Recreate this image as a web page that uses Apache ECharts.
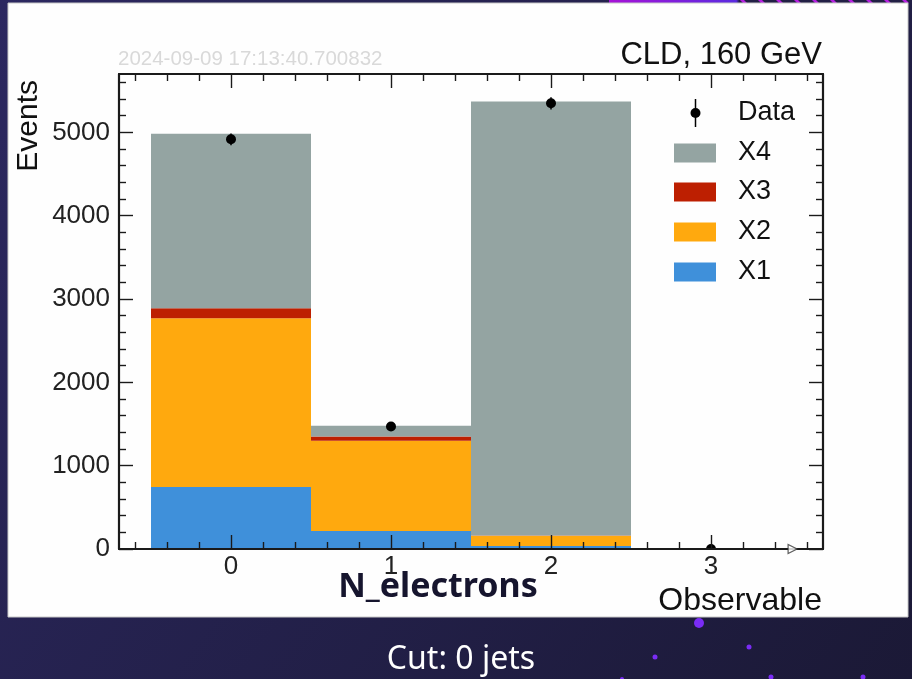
<!DOCTYPE html>
<html>
<head>
<meta charset="utf-8">
<script src="https://cdn.jsdelivr.net/npm/echarts@6/dist/echarts.min.js"></script>
<style>
html,body{margin:0;padding:0;background:#221f45;}
#chart{width:912px;height:679px;}
</style>
</head>
<body>
<div id="chart"></div>
<script>
// ---- data ----
const categories = [0, 1, 2, 3];
const x1Vals = [743, 216, 35, 0];
const x2Vals = [2027, 1083, 125, 0];
const x3Vals = [120, 52, 3, 0];
const x4Vals = [2094, 127, 5207, 0];
const dataVals = [4916, 1471, 5348, 0];
const dataErr = [70, 38, 73, 0];
const xTickLabels = [0, 1, 2, 3];
const xMinorTicks = [-0.6, -0.4, -0.2, 0.2, 0.4, 0.6, 0.8, 1.2, 1.4, 1.6, 1.8, 2.2, 2.4, 2.6, 2.8, 3.2, 3.4, 3.6];
const yTickLabels = [0, 1000, 2000, 3000, 4000, 5000];
const yMinorTicks = [200, 400, 600, 800, 1200, 1400, 1600, 1800, 2200, 2400, 2600, 2800, 3200, 3400, 3600, 3800, 4200, 4400, 4600, 4800, 5200, 5400, 5600];
const seriesNames = ['X1', 'X2', 'X3', 'X4'];
const seriesColors = ['#3f90da', '#ffa90e', '#bd1f01', '#94a4a2'];
const components = [x1Vals, x2Vals, x3Vals, x4Vals];

const chart = echarts.init(document.getElementById('chart'), null, {renderer: 'canvas'});
const FONT = '"Liberation Sans", Arial, Helvetica, sans-serif';
const AX = '#1a1a1a';

// stacked boxes
const stackSeries = [];
const base = categories.map(() => 0);
components.forEach((vals, k) => {
  const d = categories.map((c, i) => {
    const lo = base[i];
    const hi = lo + vals[i];
    base[i] = hi;
    return [c, lo, hi];
  });
  stackSeries.push({
    type: 'custom',
    name: seriesNames[k],
    xAxisIndex: 0, yAxisIndex: 0,
    clip: true,
    z: 2,
    itemStyle: {color: seriesColors[k]},
    encode: {x: 0, y: [1, 2]},
    data: d,
    renderItem: function (params, api) {
      const x = api.value(0), lo = api.value(1), hi = api.value(2);
      if (hi - lo <= 0) return null;
      const p0 = api.coord([x - 0.5, lo]);
      const p1 = api.coord([x + 0.5, hi]);
      return {
        type: 'rect',
        shape: {x: p0[0], y: p1[1], width: p1[0] - p0[0], height: p0[1] - p1[1]},
        style: {fill: seriesColors[k]}
      };
    }
  });
});

const dataSeries = {
  type: 'custom',
  name: 'Data',
  xAxisIndex: 0, yAxisIndex: 0,
  clip: true,
  z: 5,
  data: categories.map((c, i) => [c, dataVals[i], dataErr[i]]),
  encode: {x: 0, y: 1},
  renderItem: function (params, api) {
    const x = api.value(0), v = api.value(1), e = api.value(2);
    const p = api.coord([x, v]);
    const pl = api.coord([x, v - e]);
    const ph = api.coord([x, v + e]);
    return {
      type: 'group',
      children: [
        {type: 'line', shape: {x1: p[0], y1: pl[1], x2: p[0], y2: ph[1]}, style: {stroke: '#000', lineWidth: 1.5}},
        {type: 'circle', shape: {cx: p[0], cy: p[1], r: 5}, style: {fill: '#000'}}
      ]
    };
  }
};

// arrow marker on x axis (open triangle)
const arrowSeries = {
  type: 'scatter',
  xAxisIndex: 0, yAxisIndex: 0,
  z: 12,
  silent: true,
  symbol: 'triangle',
  symbolRotate: -90,
  symbolSize: [9, 9],
  itemStyle: {color: '#ffffff', borderColor: '#333', borderWidth: 1.2},
  data: [[3.51, 0]]
};

function xAx(pos, vals, len, lab, line) {
  return {
    type: 'value', position: pos, min: -0.7, max: 3.7, z: 10,
    axisLine: {show: line, onZero: false, lineStyle: {color: AX, width: 2.2}},
    axisTick: {show: true, inside: true, length: len, customValues: vals, lineStyle: {color: AX, width: 1.4}},
    axisLabel: lab ? {show: true, customValues: xTickLabels, formatter: v => String(v), fontFamily: FONT, fontSize: 26, color: '#222', margin: 5} : {show: false},
    splitLine: {show: false}, minorTick: {show: false}
  };
}
function yAx(pos, vals, len, lab, line) {
  return {
    type: 'value', position: pos, min: 0, max: 5700, z: 10,
    axisLine: {show: line, onZero: false, lineStyle: {color: AX, width: 2.2}},
    axisTick: {show: true, inside: true, length: len, customValues: vals, lineStyle: {color: AX, width: 1.4}},
    axisLabel: lab ? {show: true, customValues: yTickLabels, formatter: v => String(v), fontFamily: FONT, fontSize: 26, color: '#222', margin: 9} : {show: false},
    splitLine: {show: false}, minorTick: {show: false}
  };
}

const legendY = [113, 153, 192, 232, 272];
const legendGraphics = [
  {type: 'line', shape: {x1: 695.5, y1: 99, x2: 695.5, y2: 127}, style: {stroke: '#000', lineWidth: 1.5}, z: 20},
  {type: 'circle', shape: {cx: 695.5, cy: 113, r: 5}, style: {fill: '#000'}, z: 20},
  {type: 'text', x: 738, y: legendY[0], style: {text: 'Data', font: '27px ' + FONT, fill: '#111', verticalAlign: 'middle'}, z: 20}
];
[3, 2, 1, 0].forEach((k, j) => {
  legendGraphics.push({type: 'rect', shape: {x: 674, y: legendY[j + 1] - 9.5, width: 42, height: 19}, style: {fill: seriesColors[k]}, z: 20});
  legendGraphics.push({type: 'text', x: 738, y: legendY[j + 1], style: {text: seriesNames[k], font: '27px ' + FONT, fill: '#111', verticalAlign: 'middle'}, z: 20});
});

const dots = [[699, 623, 5], [749, 647, 2.5], [655, 657, 2.5], [771, 677, 2.5], [863, 677, 2.5], [622, 679, 2]];
const stripes = [];
for (let sx = 740; sx < 912; sx += 18) {
  stripes.push({type: 'polygon', shape: {points: [[sx, 0], [sx + 4, 0], [sx + 7, 3], [sx + 3, 3]]}, style: {fill: '#b520e0'}, z: -8});
}

const option = {
  backgroundColor: 'transparent',
  animation: false,
  grid: {left: 119, right: 89, top: 74, bottom: 130, containLabel: false},
  xAxis: [
    xAx('bottom', xTickLabels, 14, true, true),
    xAx('bottom', xMinorTicks, 7, false, false),
    xAx('top', xTickLabels, 14, false, true),
    xAx('top', xMinorTicks, 7, false, false)
  ],
  yAxis: [
    yAx('left', yTickLabels, 14, true, true),
    yAx('left', yMinorTicks, 7, false, false),
    yAx('right', yTickLabels, 14, false, true),
    yAx('right', yMinorTicks, 7, false, false)
  ],
  series: stackSeries.concat([dataSeries, arrowSeries]),
  graphic: [
    {type: 'rect', shape: {x: 0, y: 0, width: 912, height: 679}, z: -10,
      style: {fill: new echarts.graphic.LinearGradient(0, 0, 1, 1, [{offset: 0, color: '#2c2860'}, {offset: 1, color: '#1b1936'}])}},
    {type: 'rect', shape: {x: 609, y: 0, width: 303, height: 3}, z: -9,
      style: {fill: new echarts.graphic.LinearGradient(0, 0, 1, 0, [{offset: 0, color: '#a612d6'}, {offset: 0.42, color: '#5a2ae0'}, {offset: 0.43, color: '#221f45'}, {offset: 1, color: '#221f45'}])}},
    ...stripes,
    {type: 'rect', shape: {x: 8, y: 3, width: 900, height: 614}, z: -5, style: {fill: '#fefefe', stroke: '#c8c8c8', lineWidth: 1}},
    ...dots.map(d => ({type: 'circle', shape: {cx: d[0], cy: d[1], r: d[2]}, style: {fill: '#7a2cf5'}, z: -4})),
    {type: 'text', x: 118, y: 59, style: {text: '2024-09-09 17:13:40.700832', font: '20.5px ' + FONT, fill: '#d9d9d9', verticalAlign: 'middle'}, z: 20},
    {type: 'text', x: 822, y: 55, style: {text: 'CLD, 160 GeV', font: '31px ' + FONT, fill: '#111', align: 'right', verticalAlign: 'middle'}, z: 20},
    {type: 'text', x: 44, y: 80, rotation: Math.PI / 2, style: {text: 'Events', font: '30px ' + FONT, fill: '#111', align: 'right', verticalAlign: 'bottom'}, z: 20},
    {type: 'text', x: 822, y: 601, style: {text: 'Observable', font: '32px ' + FONT, fill: '#111', align: 'right', verticalAlign: 'middle'}, z: 20},
    {type: 'text', x: 438, y: 587, style: {text: 'N_electrons', font: 'bold 34px "Noto Sans", sans-serif', fill: '#16152e', align: 'center', verticalAlign: 'middle'}, z: 25},
    {type: 'text', x: 461, y: 660, style: {text: 'Cut: 0 jets', font: '32px "Noto Sans", sans-serif', fill: '#ffffff', align: 'center', verticalAlign: 'middle'}, z: 20},
    ...legendGraphics
  ]
};
chart.setOption(option);
</script>
</body>
</html>
